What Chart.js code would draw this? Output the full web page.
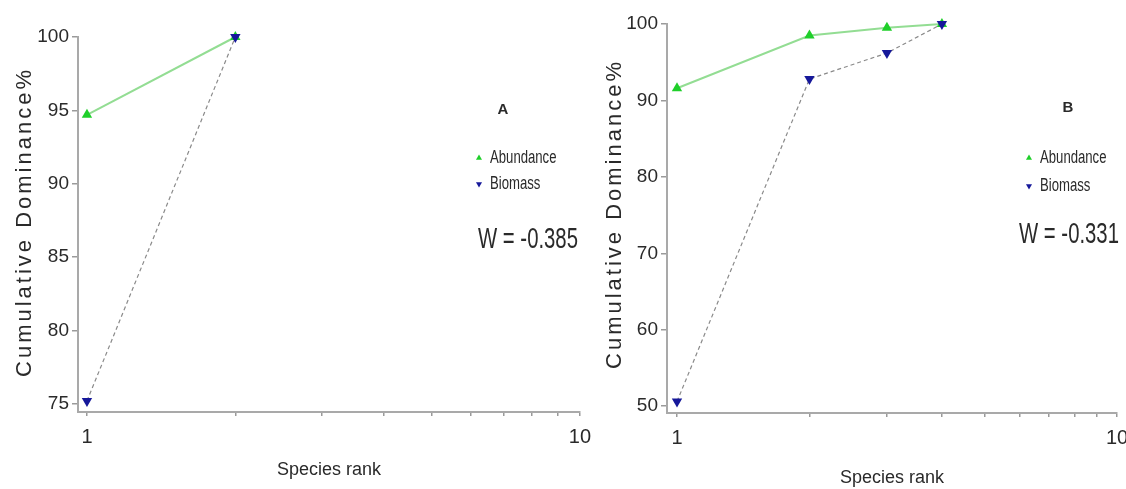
<!DOCTYPE html>
<html>
<head>
<meta charset="utf-8">
<script src="https://cdn.jsdelivr.net/npm/chart.js@4/dist/chart.umd.min.js"></script>
<style>
  html, body { margin: 0; padding: 0; background: #fff; overflow: hidden; }
  #wrapA { position: absolute; left: 0; top: 0; width: 600px; height: 489px; }
  #wrapB { position: absolute; left: 590px; top: 0; width: 560px; height: 489px; }
</style>
</head>
<body>
<div id="wrapA"><canvas id="chartA"></canvas></div>
<div id="wrapB"><canvas id="chartB"></canvas></div>
<script>
// species rank (x) and cumulative dominance % (y)
const ranksA = [1, 2]
const abundanceA = [94.7, 100]
const biomassA = [75.2, 100]

const ranksB = [1, 2, 3, 4]
const abundanceB = [91.6, 98.5, 99.5, 100]
const biomassB = [50.6, 92.8, 96.2, 100]

const yTicksA = [75, 80, 85, 90, 95, 100]
const yTicksB = [50, 60, 70, 80, 90, 100]
const xTicks = [1, 2, 3, 4, 5, 6, 7, 8, 9, 10]
const xLabels = [1, 10]

const sans = "'Liberation Sans', Arial, sans-serif"

const green = '#1fcf2a'
const greenLine = '#93dd93'
const navy = '#16189a'
const ink = '#2a2a2a'

function pts(xs, ys) {
    return xs.map((x, i) => ({ x: x, y: ys[i] }))
}

// text squeezed sideways, like the narrow type of the original figure
function narrowText(ctx, text, x, y, sx) {
    ctx.save()
    ctx.translate(x, y)
    ctx.scale(sx, 1)
    ctx.fillText(text, 0, 0)
    ctx.restore()
}

// y title, panel letter, legend and W value drawn on the canvas
const panelText = {
    id: 'panelText',
    afterDraw(chart, args, opts) {
        const ctx = chart.ctx
        ctx.save()
        ctx.fillStyle = ink
        ctx.textBaseline = 'middle'

        // rotated y title
        ctx.save()
        ctx.translate(opts.yTitle.x, opts.yTitle.y)
        ctx.rotate(-Math.PI / 2)
        ctx.font = '22px ' + sans
        ctx.letterSpacing = '3px'
        ctx.textAlign = 'center'
        ctx.fillText('Cumulative Dominance%', 0, 0)
        ctx.restore()

        ctx.textAlign = 'center'
        ctx.font = 'bold 15px ' + sans
        ctx.fillText(opts.tag.text, opts.tag.x, opts.tag.y)

        // legend
        chart.data.datasets.slice().sort((a, b) => a.legendIndex - b.legendIndex).forEach((ds, i) => {
            const y = opts.legend.y + i * opts.legend.gap
            ctx.fillStyle = ds.pointBackgroundColor
            ctx.strokeStyle = ds.pointBackgroundColor
            Chart.helpers.drawPoint(ctx, { pointStyle: 'triangle', rotation: ds.pointRotation, radius: 3.5, borderWidth: 0 }, opts.legend.x, y)
            ctx.fillStyle = ink
            ctx.textAlign = 'left'
            ctx.font = '18px ' + sans
            narrowText(ctx, ds.label, opts.legend.x + 11, y, 0.73)
        })

        ctx.textAlign = 'center'
        ctx.font = '29px ' + sans
        narrowText(ctx, opts.w.text, opts.w.x, opts.w.y, 0.7)
        ctx.restore()
    }
}

function makeChart(id, xs, abundance, biomass, yTicks, cfg) {
    return new Chart(document.getElementById(id), {
        type: 'line',
        data: {
            datasets: [
                {
                    label: 'Biomass',
                    legendIndex: 1,
                    data: pts(xs, biomass),
                    borderColor: '#8a8a8a',
                    borderWidth: 1.2,
                    borderDash: [4, 3],
                    pointStyle: 'triangle',
                    pointRotation: 180,
                    pointRadius: 6,
                    pointBorderWidth: 0,
                    pointBackgroundColor: navy,
                    pointBorderColor: navy,
                    clip: false,
                    order: 0
                },
                {
                    label: 'Abundance',
                    legendIndex: 0,
                    data: pts(xs, abundance),
                    borderColor: greenLine,
                    borderWidth: 2,
                    pointStyle: 'triangle',
                    pointRotation: 0,
                    pointRadius: 6,
                    pointBorderWidth: 0,
                    pointBackgroundColor: green,
                    pointBorderColor: green,
                    clip: false,
                    order: 1
                }
            ]
        },
        options: {
            responsive: true,
            maintainAspectRatio: false,
            animation: false,
            layout: { padding: cfg.padding },
            plugins: {
                legend: { display: false },
                tooltip: { enabled: false },
                panelText: cfg.text
            },
            scales: {
                x: {
                    type: 'logarithmic',
                    min: cfg.xMin,
                    max: 10,
                    afterBuildTicks: s => { s.ticks = xTicks.map(v => ({ value: v })) },
                    afterFit: s => { s.height = cfg.xHeight },
                    ticks: {
                        autoSkip: false,
                        maxRotation: 0,
                        padding: 9,
                        color: ink,
                        font: { family: sans, size: 20 },
                        callback: v => xLabels.includes(v) ? String(v) : ''
                    },
                    grid: { drawOnChartArea: false, drawTicks: true, tickLength: 4, color: '#9a9a9a', lineWidth: 1.5 },
                    border: { display: true, color: '#a9a9a9', width: 2 },
                    title: {
                        display: true,
                        text: 'Species rank',
                        color: ink,
                        font: { family: sans, size: 18 },
                        padding: { top: 0, bottom: cfg.titlePad }
                    }
                },
                y: {
                    min: cfg.yMin,
                    max: 100,
                    afterBuildTicks: s => { s.ticks = yTicks.map(v => ({ value: v })) },
                    afterFit: s => { s.width = cfg.yWidth },
                    ticks: {
                        padding: 3,
                        color: ink,
                        font: { family: sans, size: 19 }
                    },
                    grid: { drawOnChartArea: false, drawTicks: true, tickLength: 6, color: '#9a9a9a', lineWidth: 1.5 },
                    border: { display: true, color: '#a9a9a9', width: 2 }
                }
            }
        },
        plugins: [panelText]
    })
}

makeChart('chartA', ranksA, abundanceA, biomassA, yTicksA, {
    padding: { top: 37, right: 19, bottom: 0, left: 0 },
    xMin: 0.959,
    yMin: 74.45,
    xHeight: 77,
    yWidth: 78,
    titlePad: 8,
    text: {
        yTitle: { x: 25, y: 222 },
        tag: { text: 'A', x: 503, y: 110 },
        legend: { x: 479, y: 158, gap: 26 },
        w: { text: 'W = -0.385', x: 528, y: 240 }
    }
})

makeChart('chartB', ranksB, abundanceB, biomassB, yTicksB, {
    padding: { top: 24, right: 33, bottom: 0, left: 0 },
    xMin: 0.949,
    yMin: 49.1,
    xHeight: 76,
    yWidth: 77,
    titlePad: 0,
    text: {
        yTitle: { x: 25, y: 214 },
        tag: { text: 'B', x: 478, y: 108 },
        legend: { x: 439, y: 158, gap: 28 },
        w: { text: 'W = -0.331', x: 479, y: 235 }
    }
})
</script>
</body>
</html>
